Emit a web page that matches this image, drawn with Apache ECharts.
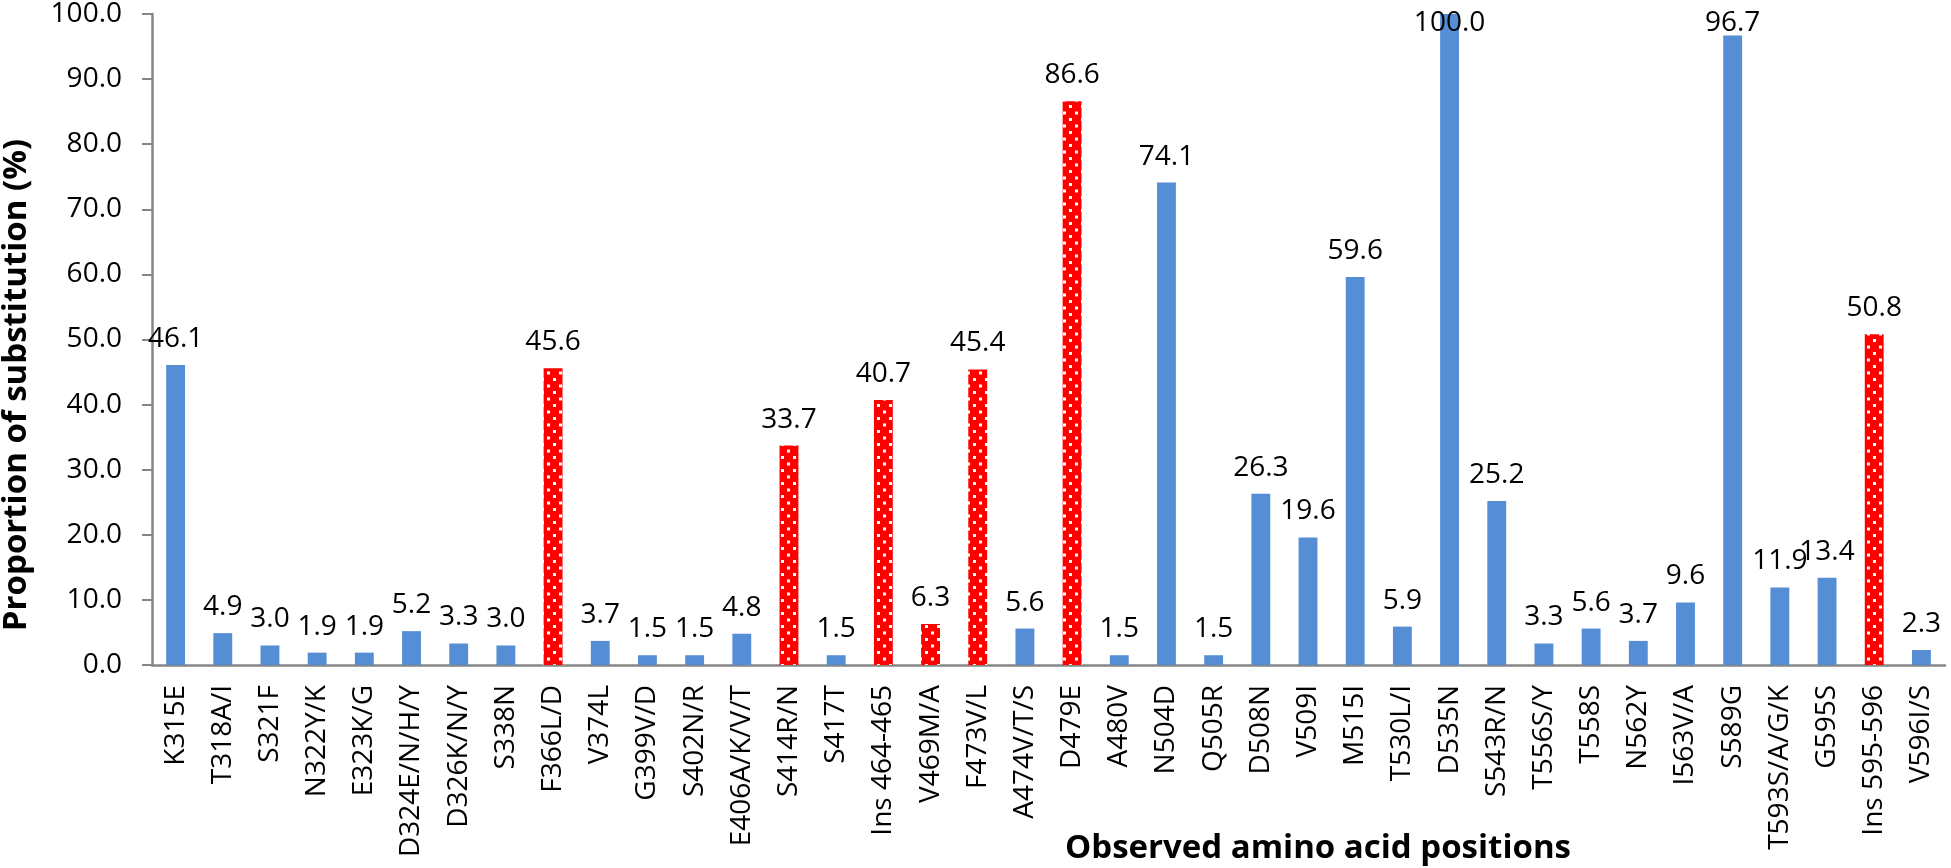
<!DOCTYPE html>
<html>
<head>
<meta charset="utf-8">
<style>
html,body{margin:0;padding:0;background:#fff;}
#chart{width:1951px;height:868px;}
</style>
<script src="https://cdn.jsdelivr.net/npm/echarts@6/dist/echarts.min.js"></script>
</head>
<body>
<div id="chart"></div>
<script>
const categories = ["K315E","T318A/I","S321F","N322Y/K","E323K/G","D324E/N/H/Y","D326K/N/Y","S338N","F366L/D","V374L","G399V/D","S402N/R","E406A/K/V/T","S414R/N","S417T","Ins 464-465","V469M/A","F473V/L","A474V/T/S","D479E","A480V","N504D","Q505R","D508N","V509I","M515I","T530L/I","D535N","S543R/N","T556S/Y","T558S","N562Y","I563V/A","S589G","T593S/A/G/K","G595S","Ins 595-596","V596I/S"];
const values = [46.1,4.9,3.0,1.9,1.9,5.2,3.3,3.0,45.6,3.7,1.5,1.5,4.8,33.7,1.5,40.7,6.3,45.4,5.6,86.6,1.5,74.1,1.5,26.3,19.6,59.6,5.9,100.0,25.2,3.3,5.6,3.7,9.6,96.7,11.9,13.4,50.8,2.3];
const highlighted = ["F366L/D","S414R/N","Ins 464-465","V469M/A","F473V/L","D479E","Ins 595-596"];
const yTicks = [0,10,20,30,40,50,60,70,80,90,100];

const FONT = '"Open Sans", sans-serif';

// dotted red pattern
const pc = document.createElement('canvas');
pc.width = 12; pc.height = 13;
const pctx = pc.getContext('2d');
pctx.fillStyle = '#FF0000';
pctx.fillRect(0,0,12,13);
pctx.fillStyle = '#FFFFFF';
pctx.fillRect(1,1,3,3);
pctx.fillRect(7,7.5,3,3);

const data = values.map((v,i)=>{
  const item = {value: v};
  if (highlighted.includes(categories[i])) item.itemStyle = {color: {image: pc, repeat: 'repeat'}};
  return item;
});

const LABEL_MIN_TOP = 9;

const chart = echarts.init(document.getElementById('chart'));
chart.setOption({
  animation: false,
  backgroundColor: '#fff',
  grid: {left: 152, right: 6, top: 13, bottom: 203, containLabel: false},
  xAxis: {
    type: 'category',
    data: categories,
    axisLine: {lineStyle: {color: '#868686', width: 2.5}},
    axisTick: {show: false},
    axisLabel: {rotate: 90, margin: 20, color: '#000', fontFamily: FONT, fontSize: 28, interval: 0}
  },
  yAxis: {
    type: 'value',
    min: yTicks[0], max: yTicks[yTicks.length-1], interval: yTicks[1]-yTicks[0],
    axisLine: {show: true, lineStyle: {color: '#868686', width: 2.5}},
    axisTick: {show: true, length: 10, lineStyle: {color: '#868686', width: 2}},
    splitLine: {show: false},
    axisLabel: {margin: 30, color: '#000', fontFamily: FONT, fontSize: 28, formatter: v => v.toFixed(1)}
  },
  series: [{
    type: 'bar',
    data: data,
    barWidth: '40%',
    itemStyle: {color: '#558ED5'},
    label: {show: true, position: 'top', distance: 12, color: '#000', fontFamily: FONT, fontSize: 28,
      formatter: p => p.value.toFixed(1)},
    labelLayout: p => (p.labelRect.y < LABEL_MIN_TOP ? {dy: LABEL_MIN_TOP - p.labelRect.y} : {})
  }],
  graphic: [
    {type: 'text', x: 17, y: 385, rotation: Math.PI/2,
     style: {text: 'Proportion of substitution (%)', font: 'bold 33px ' + FONT, fill: '#000', textAlign: 'center', textVerticalAlign: 'middle'}},
    {type: 'text', x: 1318, y: 849,
     style: {text: 'Observed amino acid positions', font: 'bold 33px ' + FONT, fill: '#000', textAlign: 'center', textVerticalAlign: 'middle'}}
  ]
});
</script>
</body>
</html>
